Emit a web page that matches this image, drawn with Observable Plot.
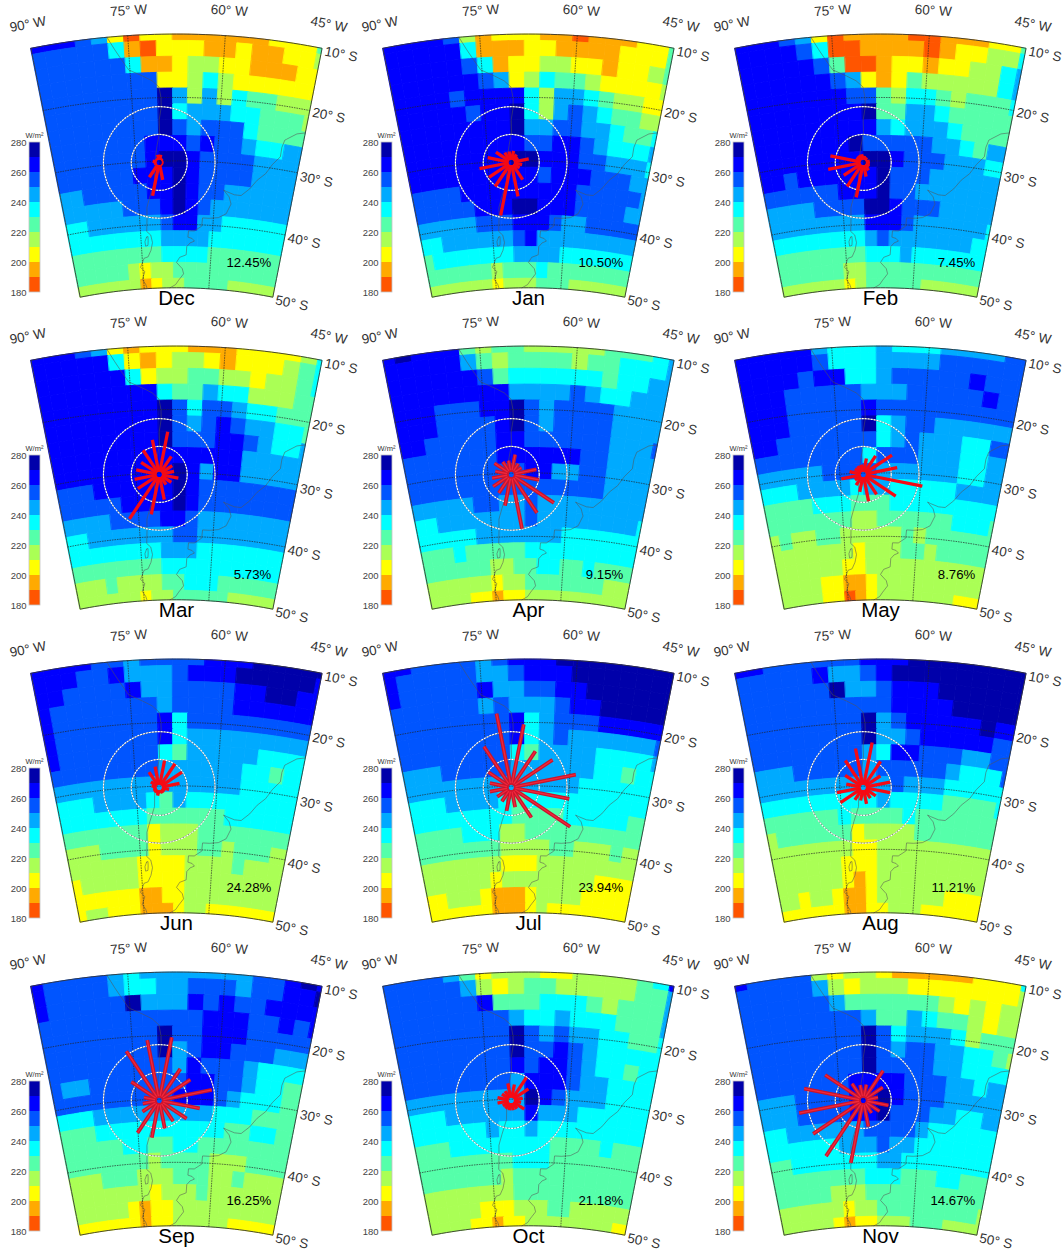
<!DOCTYPE html>
<html><head><meta charset="utf-8">
<script src="https://cdn.jsdelivr.net/npm/d3@7"></script>
<script src="https://cdn.jsdelivr.net/npm/@observablehq/plot@0.6"></script>
<style>
html,body{margin:0;padding:0;background:#fff}
#page{position:relative;width:1063px;height:1251px;overflow:hidden;font-family:"Liberation Sans",Arial,sans-serif}
#page>div{position:absolute}
svg{overflow:visible}
</style></head><body><div id="page"></div>
<script>
// Colour classes, 10 W/m2 wide. Each map row below is one digit per grid cell: class index 0 (180-190) .. 9 (270-280).
const levels=[180,190,200,210,220,230,240,250,260,270,280];
const colors=["#ff5500","#ffaa00","#ffff00","#aaff55","#55ffaa","#00ffff","#00aaff","#0055ff","#0000ff","#0000aa"];
const latEdges=[10,11,13.5,16,18.5,21,23.5,26,28.5,31,33.5,36,38.5,41,43.5,46,48.5,50];
const lonEdges=[90,88.1,85.6,83.1,80.6,78.1,75.6,73.1,70.6,68.1,65.6,63.1,60.6,58.1,55.6,53.1,50.6,48.1,45.6,45];
const monthNames=["Dec","Jan","Feb","Mar","Apr","May","Jun","Jul","Aug","Sep","Oct","Nov"];
const percents=["12.45%","10.50%","7.45%","5.73%","9.15%","8.76%","24.28%","23.94%","11.21%","16.25%","21.18%","14.67%"];

const dec=["8887620221111112224","7777751022211211223","7777775112332211122","7777777722353222222","7777777796363544333","7777777795666554443","7777777797677754444","7777777888787765566","7777777899877776666","7777778889877776666","6677777889877666666","6666677789876666666","5566666678866555555","5555555566665555555","4444444455554444444","4444432334444444444","3333331233444433333"];
const jan=["8888731222110111224","8888851112211112224","8888875122332212234","8888887623544322223","8888788885366543322","8888878895367654433","8888888896677665445","8888888887788765556","8888888899888776665","8888888888788877766","7777888888888777776","7777788899888777766","6666677788876677777","5566666678666666666","4555555566665555555","4444443444544444444","3333332333444333333"];
const feb=["8887620111100111224","8888750011110122335","8888874001221223356","8888887621243333356","8888888774355434445","8888888894466544444","8888888886566654444","8888888977777665466","8888888899877766655","8878888889777666666","7777778889776666666","6666777799877766666","6666666688876666665","5555555567666666655","4444444455565555555","4444443344444444444","3333332344444333333"];
const mar=["8887621222111222235","8888852123321222345","8888885233443323345","8888888854465533344","8888888897577655444","8888888897678766554","8888888897778876556","8888888888888866666","8888888889868866666","7778888889877777777","7777788889877777777","6666777788766666666","5566666667766666666","5555555566655555555","4444444455555555555","3334333344555444444","3333332334444433333"];
const apr=["8988843443333344456","8888864344443445556","8888887455555545566","8888888866667655666","8887778897677776666","8887777897677776666","8877777887777776667","7777777888888776666","7777777778866776666","7777777777777776666","6666677667666666666","5566666667666666665","5555566666665555555","4445444445555555555","4444443344554454444","3333332334444444333","3333221223333333333"];
const may=["8888865556555666677","8888875556666777777","8888788556777778777","8887777766677777877","8887777787777777777","8887777795677666666","8877777775676665577","7777777757776665566","6666677776666665566","5556666566555556666","4444555444555555555","4444444334444445554","3433443333343444444","3333333233344344444","3333332233333333333","3333221123333333333","3333220123333333222"];
const jun=["8888776777788899999","8887786667888999998","8877778667777889988","8777777767777888888","8777777785777777777","8777777785666666666","8777777754666665555","7777777766666655455","6666666666666655555","5556666546555555555","5555555444444555555","4444444233344444444","3334444233344344433","3333332222333343333","2333332222333333333","2222221122333333333","2332221112332222222"];
const jul=["8877776788899999999","8777776678889999999","8777778667788999999","7777776766678899999","7777777785677788888","7777777785676666667","7777777754666655556","6667777766666655455","6666666666666555555","5556666545555555555","5555555544445555544","4444555334444444444","4444444333344333433","3333333222333333333","3333332333333332222","2233321112333322222","2222221112322222222"];
const aug=["8877777788899999999","7777786678999999999","7777779667888999999","7777777777888899999","7777777796788888988","7777777796678888877","7777777765887776677","6667777767777765557","6666666666766655555","5555555556555544445","4444445444454444444","3444444233334444444","3333333223333333333","3333332223333333333","3333332123333333333","3323321123333332222","2222221122333222222"];
const sep=["8777765666666677898","8777765566777677889","8777779666878778888","7777777777788877878","7777777797788877777","7777777796788777666","7777777776877765555","7667777777887765544","7777777778887655544","5556666666665554444","4445555555555445544","4444455445544444444","4444444344443334444","3334443334443343333","3333333233343333333","3333321223333333333","2222221223333322222"];
const oct=["7777642333223333458","7777763234433333446","7777778444555434446","7777777765565554446","7777777797676655445","7777777797787655555","7777777787887655455","7777777768887665555","6666666669876665555","5556666668666555555","5555556556555555555","4445555555544445444","4444444455544444444","4444444344444444444","3333333344444444444","3333322233344333333","3333221223333333322"];
const nov=["8777732332111112225","7777763233322222223","7777776444444323233","7777777764465443233","7777777797566653444","7777777797677665543","7777777797777665555","7777777888877766566","6667777889877766666","6667777889777665566","5566666677776555555","5555556667665555555","4455555556655555555","4444444455544455444","4444433344444444444","3333332334444444443","3333321223334443333"];
const maps=[dec,jan,feb,mar,apr,may,jun,jul,aug,sep,oct,nov];

// Wind rose: relative frequency in 16 directions, clockwise from 11.25 deg east of north (outer ring = 10 %, inner = 5 %).
const roseDirs=[11.25,33.75,56.25,78.75,101.25,123.75,146.25,168.75,191.25,213.75,236.25,258.75,281.25,303.75,326.25,348.75];
const roseDec=[1.4,0.9,0.7,0.7,0.7,0.7,0.7,3.2,6.1,3.2,0.8,1.0,1.2,0.8,0.9,1.4];
const roseJan=[2.1,1.7,1.5,3.2,2.0,1.8,3.7,6.2,9.7,5.2,4.8,5.8,4.3,3.3,2.1,2.0];
const roseFeb=[1.2,1.1,0.9,1.2,1.2,1.3,1.7,2.6,6.4,5.2,4.2,6.4,6.0,1.5,1.5,1.5];
const roseMar=[7.8,3.9,2.8,2.7,3.5,2.6,2.2,4.6,7.3,9.6,4.6,4.5,4.2,3.9,5.2,6.3];
const roseApr=[3.6,2.3,2.2,4.6,5.1,9.2,8.3,9.9,5.7,4.0,3.9,3.5,2.9,3.6,2.7,2.5];
const roseMay=[2.9,4.0,6.2,6.2,10.8,7.0,4.3,4.9,3.2,2.3,1.8,4.0,2.5,1.8,1.8,1.8];
const roseJun=[4.9,5.1,4.9,3.7,1.8,1.2,1.2,1.1,1.5,1.2,1.2,1.1,1.4,1.8,3.3,3.8];
const roseJul=[11.5,7.8,8.9,11.8,10.6,12.7,6.5,3.6,4.3,3.0,3.0,3.9,3.9,4.9,8.8,13.5];
const roseAug=[8.2,5.6,3.7,4.9,4.9,2.7,2.3,3.0,2.4,2.7,4.9,4.8,3.1,3.9,5.8,7.1];
const roseSep=[11.5,6.8,6.7,9.6,7.4,5.9,4.5,5.1,6.8,7.0,3.6,3.0,2.8,6.0,10.6,11.0];
const roseOct=[2.9,4.9,3.7,2.1,1.8,2.8,1.8,1.8,1.8,1.8,1.8,2.5,2.5,2.0,2.0,3.1];
const roseNov=[2.9,6.4,4.2,2.7,4.6,3.5,2.7,4.8,11.4,12.0,10.8,11.7,10.8,8.2,3.6,2.8];
const roses=[roseDec,roseJan,roseFeb,roseMar,roseApr,roseMay,roseJun,roseJul,roseAug,roseSep,roseOct,roseNov];
const outlined=new Set(["Apr","Jul","Sep","Nov"]);

// Coastlines, lon/lat.
const westCoast=[[-78.2,-10],[-77.2,-12],[-76.3,-13.6],[-75.2,-15.4],[-73,-16.5],[-71.5,-17.3],[-70.4,-18.3],[-70.1,-20],[-70.1,-21.5],[-70.5,-23.5],[-70.5,-25.5],[-71,-27.5],[-71.4,-29.5],[-71.6,-31.5],[-71.7,-33.2],[-72.7,-35.5],[-73.4,-37.2],[-73.5,-39],[-73.7,-41],[-72.9,-41.6],[-72.6,-42.8],[-73,-44],[-73.7,-45],[-74.6,-45.2],[-75.5,-46.6],[-74.6,-47.3],[-75.3,-48.5],[-74.6,-49.3],[-74.3,-50]];
const chiloe=[[-73.8,-41.9],[-73.5,-41.8],[-73.5,-42.5],[-73.6,-43.2],[-74.1,-43.3],[-74.2,-42.6],[-73.8,-41.9]];
const eastCoast=[[-45,-23.6],[-46.4,-24],[-48.3,-25.3],[-48.6,-26.5],[-48.6,-28],[-49.8,-29.4],[-50.8,-31],[-52.2,-32.2],[-53.4,-33.7],[-54.9,-34.9],[-56.2,-34.9],[-57.8,-34.5],[-58.4,-34.3],[-57.2,-35.3],[-56.7,-36.4],[-57.5,-38],[-59,-38.7],[-60.8,-38.9],[-62.2,-38.9],[-62.3,-40.2],[-63.8,-41],[-65,-41],[-65.1,-42],[-64.2,-42.2],[-63.7,-42.6],[-64.6,-42.9],[-65.3,-43.5],[-65.4,-44.8],[-66.8,-45.2],[-67.5,-46],[-66.2,-47],[-65.9,-47.8],[-67,-48.8],[-67.7,-49.5],[-69,-50]];

const meridians=[-75,-60], parallels=[-20,-30,-40];
const lonLabels=[[-90,"90° W",-11,-3,-24],[-75,"75° W",-4,1,-25],[-60,"60° W",4,4,-25],[-45,"45° W",11,7,-24]];
const latLabels=[[-10,"10° S",6],[-20,"20° S",5],[-30,"30° S",7],[-40,"40° S",6],[-50,"50° S",6]];
const ringCentre=[{lon:-70.7,lat:-30.2}];
const panelX=[0,352,704], panelY=[0,312.4,625.4,938.4];

const page=document.getElementById("page");
const thresholds=levels.slice(1,-1);
const colorScale={type:"threshold",domain:thresholds,range:colors};
const steps=(a,b,n=40)=>d3.range(n+1).map(i=>a+(b-a)*i/n);

function cellsOf(rows){
  const out=[];
  rows.forEach((row,r)=>{
    if(row.length!==19) throw new Error("bad row "+r+" "+row);
    [...row].forEach((c,k)=>{
      const w=-lonEdges[k],e=-lonEdges[k+1],n=-latEdges[r],s=-latEdges[r+1];
      out.push({type:"Polygon",value:185+10*(+c),coordinates:[[[w,n],[(w+e)/2,n],[e,n],[e,s],[(w+e)/2,s],[w,s],[w,n]]]});
    });
  });
  return out;
}
const projection=()=>d3.geoConicEquidistant().parallels([-20,-40]).rotate([67.5,0]).center([0,-30]).scale(363.4).translate([176,160.4]);
const line=c=>({type:"LineString",coordinates:c});
const gratLines=[...meridians.map(l=>line(steps(-10,-50).map(p=>[l,p]))),...parallels.map(p=>line(steps(-90,-45).map(l=>[l,p])))];
const frame=line([...steps(-90,-45).map(l=>[l,-10]),...steps(-10,-50).map(p=>[-45,p]),...steps(-45,-90).map(l=>[l,-50]),...steps(-50,-10).map(p=>[-90,p])]);
const fontFamily='"Liberation Sans",Arial,sans-serif';
const spoke={draw(ctx,l){ctx.moveTo(0,-3);ctx.lineTo(0,-l);}};

monthNames.forEach((name,i)=>{
  const rose=roses[i].map((v,j)=>({lon:ringCentre[0].lon,lat:ringCentre[0].lat,v,dir:roseDirs[j]}));
  const vec=(stroke,w)=>Plot.vector(rose,{x:"lon",y:"lat",length:"v",rotate:"dir",anchor:"start",shape:spoke,stroke,strokeWidth:w,strokeLinecap:"butt"});
  const plot=Plot.plot({
    width:362,height:312,margin:0,
    style:{background:"transparent",fontFamily,overflow:"visible",maxWidth:"none"},
    projection:projection(),
    color:colorScale,
    length:{type:"linear",domain:[0,10],range:[0,55.8]},
    marks:[
      Plot.geo(cellsOf(maps[i]),{fill:d=>d.value,stroke:d=>d.value,strokeWidth:0.9}),
      Plot.geo([line(westCoast),line(chiloe),line(eastCoast)],{stroke:"#555",strokeWidth:0.55,fill:"none"}),
      Plot.geo(gratLines,{stroke:"#222",strokeWidth:0.65,strokeDasharray:"0.8,1.7",fill:"none"}),
      Plot.geo([frame],{stroke:"#333",strokeWidth:0.9,fill:"none"}),
      ...[28,55.8].flatMap(r=>[
        Plot.dot(ringCentre,{x:"lon",y:"lat",r,stroke:"#777",strokeWidth:1,fill:"none"}),
        Plot.dot(ringCentre,{x:"lon",y:"lat",r,stroke:"#fff",strokeWidth:1.1,strokeDasharray:"2,1",fill:"none"})]),
      ...(outlined.has(name)?[vec("#c8142c",3.8),vec("#f0283c",1.3)]:[vec("#f50a14",3.3)]),
      Plot.dot(ringCentre,{x:"lon",y:"lat",r:3.5,stroke:outlined.has(name)?"#d0142c":"#f50a14",strokeWidth:1.8,fill:"none"}),
      ...lonLabels.map(([l,t,rot,dx,dy])=>Plot.text([t],{x:()=>l,y:()=>-10,text:d=>d,rotate:rot,dx,dy,fontSize:13.5,fill:"#333"})),
      ...latLabels.map(([p,t,dy])=>Plot.text([t],{x:()=>-45,y:()=>p,text:d=>d,rotate:11,dx:19,dy,fontSize:13.5,fill:"#333"})),
      Plot.text([percents[i]],{x:()=>-46.8,y:()=>-44.7,text:d=>d,textAnchor:"end",fontSize:13.2,fill:"#000"}),
      Plot.text([name],{x:()=>-67.5,y:()=>-50,text:d=>d,dy:11,fontSize:20.5,fill:"#000"})
    ]
  });
  const wrap=document.createElement("div");
  const ox=panelX[i%3], oy=panelY[Math.floor(i/3)];
  wrap.style.left=ox+"px"; wrap.style.top=oy+"px";
  wrap.appendChild(plot); page.appendChild(wrap);

  const bands=d3.pairs(levels).map(([a,b])=>({a,b,v:a+5}));
  const bar=Plot.plot({
    width:60,height:180,marginTop:20,marginBottom:10,marginLeft:29,marginRight:20,
    style:{background:"transparent",fontFamily,overflow:"visible",maxWidth:"none"},
    x:{domain:[0,1],axis:null},
    y:{domain:[180,280],ticks:levels.filter(v=>v%20===0),tickSize:0,tickPadding:2,label:null,tickFormat:d=>d},
    color:colorScale,
    marks:[
      Plot.rect(bands,{x1:()=>0,x2:()=>1,y1:"a",y2:"b",fill:"v"}),
      Plot.rect([{a:180,b:280}],{x1:()=>0,x2:()=>1,y1:"a",y2:"b",stroke:"#c4c4c4",strokeWidth:0.8,fill:"none"}),
      Plot.axisY(levels.filter(v=>v%20===0),{tickSize:0,tickPadding:3,fontSize:9.5,fill:"#444",label:null}),
      Plot.text(["W/m²"],{x:()=>0.45,y:()=>280,text:d=>d,dy:-7,fontSize:7.5,fill:"#333"})
    ]
  });
  const bw=document.createElement("div");
  bw.style.left=ox+"px"; bw.style.top=(oy+122.3)+"px";
  bw.appendChild(bar); page.appendChild(bw);
});
</script></body></html>
